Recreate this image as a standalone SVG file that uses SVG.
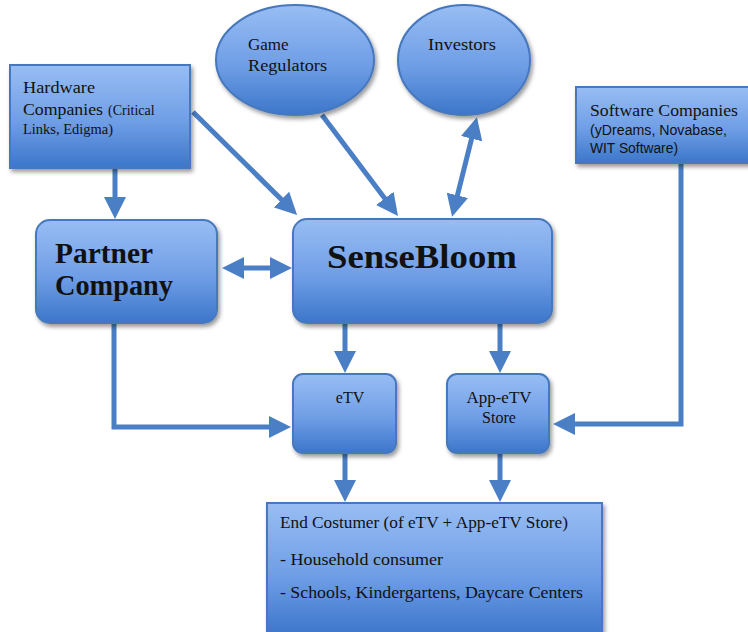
<svg xmlns="http://www.w3.org/2000/svg" width="748" height="632" viewBox="0 0 748 632">
  <defs>
    <linearGradient id="boxFill" x1="0" y1="0" x2="0" y2="1">
      <stop offset="0" stop-color="#98bdf3"/>
      <stop offset="0.55" stop-color="#6f9ee6"/>
      <stop offset="1" stop-color="#3c76ca"/>
    </linearGradient>
    <filter id="shadow" x="-10%" y="-10%" width="125%" height="130%">
      <feDropShadow dx="2" dy="3" stdDeviation="2" flood-color="#000" flood-opacity="0.4"/>
    </filter>
    <marker id="head" markerUnits="userSpaceOnUse" markerWidth="22" markerHeight="22" viewBox="0 0 22 22" refX="12" refY="11" orient="auto-start-reverse">
      <path d="M0,0 L22,11 L0,22 z" fill="#4a7fc6"/>
    </marker>
  </defs>
  <style>
    .node { fill: url(#boxFill); stroke: #4678bd; stroke-width: 2; filter: url(#shadow); }
    .conn { fill: none; stroke: #4a7fc6; stroke-width: 5; stroke-linejoin: miter; }
    .conn path.one { marker-end: url(#head); }
    .conn path.two { marker-start: url(#head); marker-end: url(#head); }
    .lbl { font-family: "Liberation Serif", "DejaVu Serif", serif; fill: #111; }
    .sans { font-family: "Liberation Sans", Arial, sans-serif; fill: #111; }
    .big { font-weight: bold; }
  </style>

  <!-- connectors -->
  <g id="connectors" class="conn">
    <path class="one" d="M115,169 L115,209"/>
    <path class="one" d="M193,112 L290,208"/>
    <path class="one" d="M322,115 L392,208"/>
    <path class="two" d="M454.5,207 L474.5,127"/>
    <path class="two" d="M232,268 L282,268"/>
    <path class="one" d="M345,324 L345,363"/>
    <path class="one" d="M500,324 L500,363"/>
    <path class="one" d="M114,323 L114,427 L281,427"/>
    <path class="one" d="M681,163 L681,424 L563,424"/>
    <path class="one" d="M345,454 L345,492"/>
    <path class="one" d="M500,454 L500,492"/>
  </g>

  <!-- hardware suppliers -->
  <g id="hardware">
    <rect class="node" x="10" y="65" width="180" height="103"/>
    <text class="lbl" x="23" y="93" font-size="17" textLength="72" lengthAdjust="spacingAndGlyphs">Hardware</text>
    <text class="lbl" x="23" y="115" font-size="17">
      <tspan textLength="80" lengthAdjust="spacingAndGlyphs">Companies</tspan><tspan font-size="14" dx="5">(Critical</tspan>
    </text>
    <text class="lbl" x="23" y="134" font-size="14" textLength="90" lengthAdjust="spacingAndGlyphs">Links, Edigma)</text>
  </g>

  <!-- regulators -->
  <g id="regulators">
    <ellipse class="node" cx="295" cy="60" rx="79" ry="55"/>
    <text class="lbl" x="248" y="50" font-size="17">Game</text>
    <text class="lbl" x="248" y="71" font-size="17" textLength="79" lengthAdjust="spacingAndGlyphs">Regulators</text>
  </g>

  <!-- investors -->
  <g id="investors">
    <ellipse class="node" cx="464" cy="60" rx="66" ry="55"/>
    <text class="lbl" x="428" y="50" font-size="17" textLength="68" lengthAdjust="spacingAndGlyphs">Investors</text>
  </g>

  <!-- software suppliers -->
  <g id="software">
    <rect class="node" x="576" y="87" width="180" height="76"/>
    <text class="lbl" x="590" y="116" font-size="17" textLength="148" lengthAdjust="spacingAndGlyphs">Software Companies</text>
    <text class="sans" x="590" y="135" font-size="14" textLength="137" lengthAdjust="spacingAndGlyphs">(yDreams, Novabase,</text>
    <text class="sans" x="590" y="153" font-size="14" textLength="88" lengthAdjust="spacingAndGlyphs">WIT Software)</text>
  </g>

  <!-- partner -->
  <g id="partner">
    <rect class="node" x="36" y="220" width="181" height="103" rx="14"/>
    <text class="lbl big" x="55" y="263" font-size="29" textLength="98" lengthAdjust="spacingAndGlyphs">Partner</text>
    <text class="lbl big" x="55" y="295" font-size="29" textLength="118" lengthAdjust="spacingAndGlyphs">Company</text>
  </g>

  <!-- core company -->
  <g id="sensebloom">
    <rect class="node" x="293" y="219" width="259" height="104" rx="14"/>
    <text class="lbl big" x="327" y="268" font-size="34" textLength="190" lengthAdjust="spacingAndGlyphs">SenseBloom</text>
  </g>

  <!-- products -->
  <g id="etv">
    <rect class="node" x="293" y="374" width="103" height="79" rx="10"/>
    <text class="lbl" x="350" y="403" font-size="16" text-anchor="middle">eTV</text>
  </g>

  <g id="app-store">
    <rect class="node" x="447" y="374" width="102" height="79" rx="10"/>
    <text class="lbl" x="499" y="403" font-size="16" text-anchor="middle" textLength="65" lengthAdjust="spacingAndGlyphs">App-eTV</text>
    <text class="lbl" x="499" y="423" font-size="16" text-anchor="middle">Store</text>
  </g>

  <!-- customers -->
  <g id="end-customer">
    <rect class="node" x="267" y="503" width="335" height="132"/>
    <text class="lbl" x="280" y="528" font-size="16" textLength="288" lengthAdjust="spacingAndGlyphs">End Costumer (of eTV + App-eTV Store)</text>
    <text class="lbl" x="280" y="565" font-size="16" textLength="163" lengthAdjust="spacingAndGlyphs">- Household consumer</text>
    <text class="lbl" x="280" y="598" font-size="16" textLength="303" lengthAdjust="spacingAndGlyphs">- Schools, Kindergartens, Daycare Centers</text>
  </g>
</svg>
